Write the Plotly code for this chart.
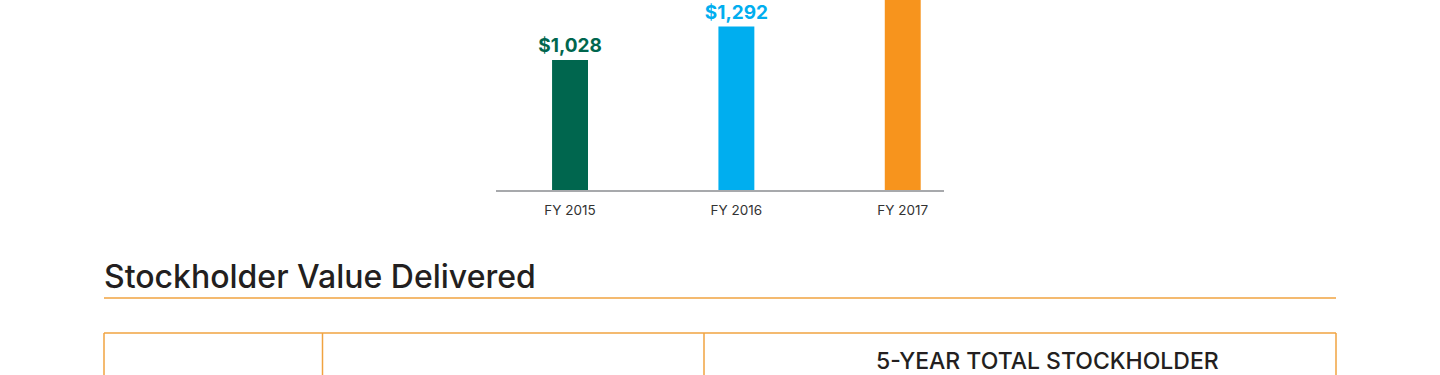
import plotly.graph_objects as go

# ---- data ----
years = ["FY 2015", "FY 2016", "FY 2017"]
values = [1028, 1292, 1600]
labels = ["$1,028", "$1,292", ""]   # FY 2017 label lies above the visible area
bar_colors = ["#00664E", "#00AEEF", "#F7941D"]
heading = "Stockholder Value Delivered"
table_header = "5-YEAR TOTAL STOCKHOLDER"

W, H = 1440, 375
FONT = "Inter, Lato, sans-serif"
ORANGE_LINE = "#F0A340"

def px(x):
    return x / W

def py(y):
    return 1 - y / H

fig = go.Figure()
fig.add_trace(go.Bar(
    x=years,
    y=values,
    marker=dict(color=bar_colors, line=dict(width=0)),
    width=0.216,
    text=labels,
    textposition="outside",
    constraintext="none",
    textfont=dict(family=FONT, size=19, color=bar_colors, weight="bold"),
    cliponaxis=True,
    hoverinfo="skip",
))

fig.update_layout(
    width=W, height=H,
    margin=dict(l=0, r=0, t=0, b=0),
    paper_bgcolor="#FFFFFF",
    plot_bgcolor="rgba(0,0,0,0)",
    showlegend=False,
    xaxis=dict(
        domain=[px(496), px(944)],
        range=[-0.445, 2.248],
        showgrid=False, zeroline=False,
        showline=True, linecolor="#A7A9AC", linewidth=1.5,
        ticks="", ticklabelstandoff=7,
        tickfont=dict(family=FONT, size=13.5, color="#333333"),
        fixedrange=True,
    ),
    yaxis=dict(
        domain=[py(190), 1],
        range=[0, 1028 * 190 / 130],
        visible=False, showgrid=False, zeroline=False,
        fixedrange=True,
    ),
)

# heading
fig.add_annotation(
    x=px(102), y=py(276), xref="paper", yref="paper",
    xanchor="left", yanchor="middle", showarrow=False,
    text=heading, font=dict(family=FONT, size=32, color="#231F20", weight=500),
)
# underline
fig.add_shape(type="line", xref="paper", yref="paper",
              x0=px(104), x1=px(1336), y0=py(298), y1=py(298),
              line=dict(color=ORANGE_LINE, width=1.5))

# table borders
fig.add_shape(type="line", xref="paper", yref="paper",
              x0=px(104), x1=px(1336), y0=py(333), y1=py(333),
              line=dict(color=ORANGE_LINE, width=1.5))
for xv in [104, 322.5, 704, 1336]:
    fig.add_shape(type="line", xref="paper", yref="paper",
                  x0=px(xv), x1=px(xv), y0=py(333), y1=py(380),
                  line=dict(color=ORANGE_LINE, width=1.5))

fig.add_annotation(
    x=px(1047), y=py(361), xref="paper", yref="paper",
    xanchor="center", yanchor="middle", showarrow=False,
    text=table_header, font=dict(family=FONT, size=23, color="#231F20", weight=500),
)

fig.write_html(
    "out.html",
    config={"displayModeBar": False},
    post_script="document.body.style.margin='0';document.body.style.overflow='hidden';",
)
